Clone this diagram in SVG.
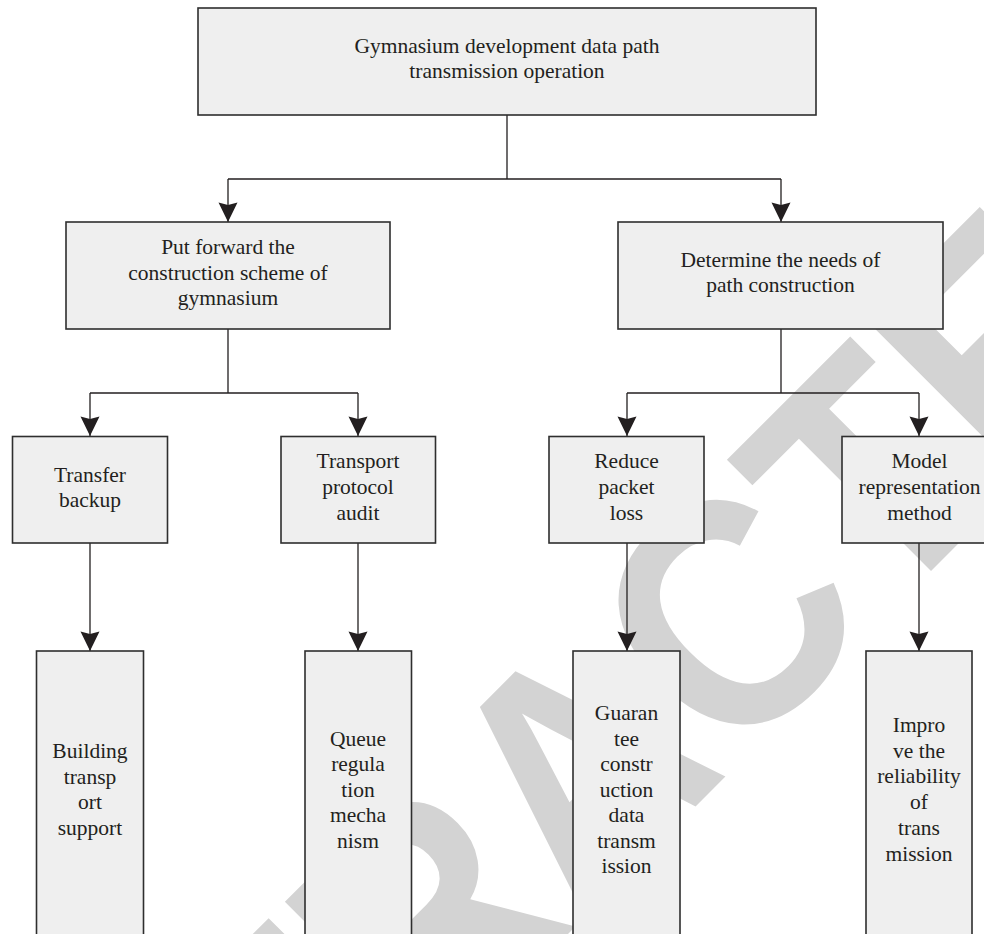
<svg xmlns="http://www.w3.org/2000/svg" width="984" height="934" viewBox="0 0 984 934">
<style>
.box{fill:#efefef;stroke:#2e2e2e;stroke-width:1.6}
.t{font-family:"Liberation Serif","Times New Roman",serif;font-size:21.5px;fill:#231f20;text-anchor:middle}
.c{fill:none;stroke:#231f20;stroke-width:1.3}
.wm{font-family:"Liberation Sans",Arial,sans-serif;font-weight:bold;font-size:324px;fill:#d3d3d3}
</style>
<defs>
<marker id="ah" viewBox="-20 -10 20 20" refX="0" refY="0" markerWidth="20" markerHeight="20" markerUnits="userSpaceOnUse" orient="auto" overflow="visible">
<path d="M0,0 L-19.5,-9.5 L-17,0 L-19.5,9.5 Z" fill="#231f20"/>
</marker>
</defs>
<rect width="984" height="934" fill="#ffffff"/>
<g id="watermark">
<text class="wm" x="0" y="0" transform="translate(9.7 1492.3) rotate(-45) scale(0.914 1)">RETRACTED</text>
</g>
<g id="connectors">
<path class="c" d="M507,115 V179 M228,179 H781" />
<path class="c" d="M228,179 V222" marker-end="url(#ah)"/>
<path class="c" d="M781,179 V222" marker-end="url(#ah)"/>
<path class="c" d="M228,329 V393 M90,393 H358" />
<path class="c" d="M90,393 V436" marker-end="url(#ah)"/>
<path class="c" d="M358,393 V436" marker-end="url(#ah)"/>
<path class="c" d="M781,329 V393 M627,393 H919" />
<path class="c" d="M627,393 V436" marker-end="url(#ah)"/>
<path class="c" d="M919,393 V436" marker-end="url(#ah)"/>
<path class="c" d="M90,543 V651" marker-end="url(#ah)"/>
<path class="c" d="M358,543 V651" marker-end="url(#ah)"/>
<path class="c" d="M627,543 V651" marker-end="url(#ah)"/>
<path class="c" d="M919,543 V651" marker-end="url(#ah)"/>
</g>
<g id="n-root">
<rect class="box" x="198" y="8" width="618" height="107"/>
<text class="t" x="507" y="53">Gymnasium development data path</text>
<text class="t" x="507" y="78">transmission operation</text>
</g>
<g id="n-scheme">
<rect class="box" x="66" y="222" width="324" height="107"/>
<text class="t" x="228" y="254">Put forward the</text>
<text class="t" x="228" y="280">construction scheme of</text>
<text class="t" x="228" y="305">gymnasium</text>
</g>
<g id="n-needs">
<rect class="box" x="618" y="222" width="325" height="107"/>
<text class="t" x="780.5" y="267">Determine the needs of</text>
<text class="t" x="780.5" y="292">path construction</text>
</g>
<g id="n-transfer">
<rect class="box" x="12.5" y="436.5" width="155" height="106.5"/>
<text class="t" x="90" y="482">Transfer</text>
<text class="t" x="90" y="507">backup</text>
</g>
<g id="n-protocol">
<rect class="box" x="281" y="436.5" width="154.5" height="106.5"/>
<text class="t" x="358" y="468">Transport</text>
<text class="t" x="358" y="494">protocol</text>
<text class="t" x="358" y="520">audit</text>
</g>
<g id="n-packet">
<rect class="box" x="549" y="436.5" width="155" height="106.5"/>
<text class="t" x="626.5" y="468">Reduce</text>
<text class="t" x="626.5" y="494">packet</text>
<text class="t" x="626.5" y="520">loss</text>
</g>
<g id="n-model">
<rect class="box" x="842" y="436.5" width="155" height="106.5"/>
<text class="t" x="919.5" y="468">Model</text>
<text class="t" x="919.5" y="494">representation</text>
<text class="t" x="919.5" y="520">method</text>
</g>
<g id="n-building">
<rect class="box" x="36.5" y="651" width="107" height="290"/>
<text class="t" x="90" y="758">Building</text>
<text class="t" x="90" y="783.6">transp</text>
<text class="t" x="90" y="809.2">ort</text>
<text class="t" x="90" y="834.8">support</text>
</g>
<g id="n-queue">
<rect class="box" x="305" y="651" width="106.5" height="290"/>
<text class="t" x="358" y="745.5">Queue</text>
<text class="t" x="358" y="771.1">regula</text>
<text class="t" x="358" y="796.7">tion</text>
<text class="t" x="358" y="822.3">mecha</text>
<text class="t" x="358" y="847.9">nism</text>
</g>
<g id="n-guarantee">
<rect class="box" x="573" y="651" width="107" height="290"/>
<text class="t" x="626.5" y="720">Guaran</text>
<text class="t" x="626.5" y="745.5">tee</text>
<text class="t" x="626.5" y="771">constr</text>
<text class="t" x="626.5" y="796.5">uction</text>
<text class="t" x="626.5" y="822">data</text>
<text class="t" x="626.5" y="847.5">transm</text>
<text class="t" x="626.5" y="873">ission</text>
</g>
<g id="n-improve">
<rect class="box" x="866" y="651" width="106" height="290"/>
<text class="t" x="919" y="732">Impro</text>
<text class="t" x="919" y="757.7">ve the</text>
<text class="t" x="919" y="783.4">reliability</text>
<text class="t" x="919" y="809.1">of</text>
<text class="t" x="919" y="834.8">trans</text>
<text class="t" x="919" y="860.5">mission</text>
</g>
</svg>
